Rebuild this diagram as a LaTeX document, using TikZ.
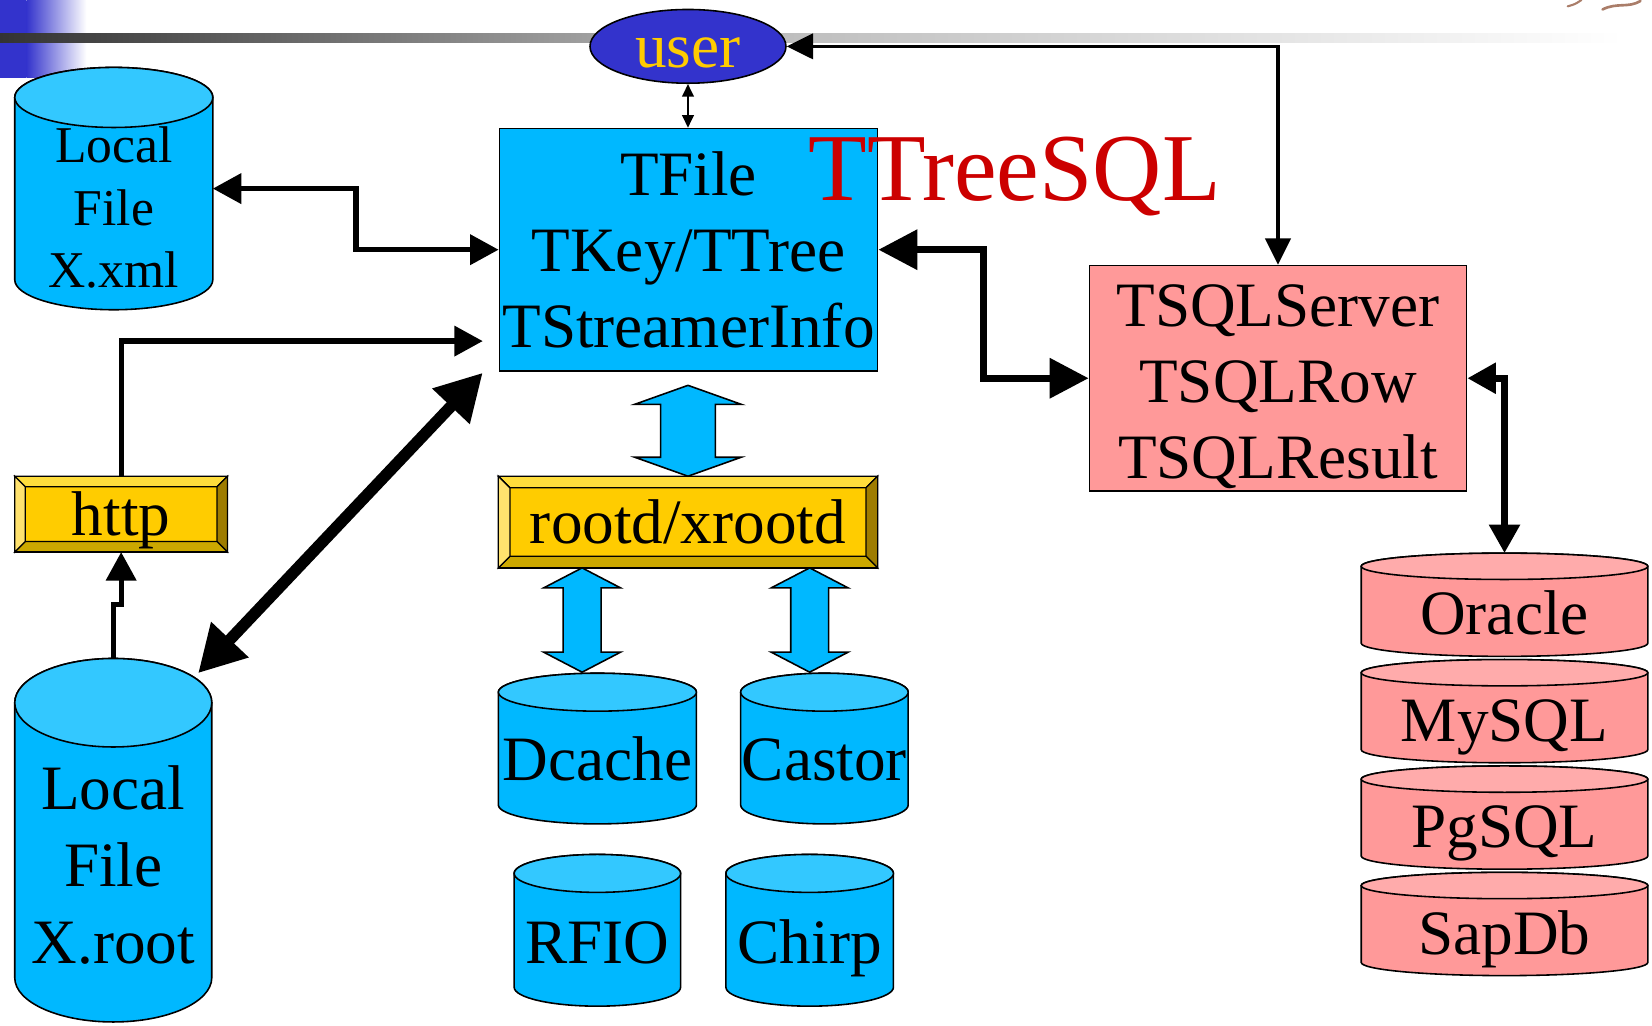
\documentclass[tikz,border=0pt]{standalone}
\usepackage{fontspec}
\setmainfont{Liberation Serif}
\usepackage{tikz}
\usetikzlibrary{positioning,shapes,arrows.meta,calc}
\pgfdeclarelayer{deco}
\pgfdeclarelayer{bg}
\pgfsetlayers{deco,bg,main}

\definecolor{boxblue}{RGB}{0,184,255}
\definecolor{cyltop}{RGB}{51,200,255}
\definecolor{sqlpink}{RGB}{255,153,153}
\definecolor{sqltop}{RGB}{255,171,171}
\definecolor{gold}{RGB}{255,204,0}
\definecolor{goldlight}{RGB}{255,221,60}
\definecolor{goldpale}{RGB}{255,226,110}
\definecolor{golddark}{RGB}{204,168,0}
\definecolor{goldshadow}{RGB}{158,124,0}
\definecolor{userblue}{RGB}{51,51,204}
\definecolor{useryellow}{RGB}{255,204,0}
\definecolor{sqlred}{RGB}{204,0,0}
\definecolor{smudge}{RGB}{170,125,105}

\tikzset{
headS/.tip={Triangle[length=12pt,width=11pt]},
headN/.tip={Triangle[length=25pt,width=24pt]},
headM/.tip={Triangle[length=27pt,width=28pt]},
headL/.tip={Triangle[length=37pt,width=37pt]},
headXL/.tip={Triangle[length=44pt,width=46pt]},
}

% disk: name, centre x, top, bottom, half width, end radius, body colour, lid colour
\newcommand{\dbase}[8]{%
  \begin{pgfonlayer}{bg}
    \filldraw[fill=#7, cylline] (#2-#5,#3+#6) -- (#2-#5,#4-#6)
      arc[start angle=180, end angle=360, x radius=#5pt, y radius=#6pt]
      -- (#2+#5,#3+#6)
      arc[start angle=0, end angle=180, x radius=#5pt, y radius=#6pt] -- cycle;
    \filldraw[fill=#8, cylline] (#2,#3+#6) ellipse[x radius=#5pt, y radius=#6pt];
  \end{pgfonlayer}
  \node[dbnode, minimum width=2*#5pt, minimum height={((#4)-(#3))*1pt}] (#1) at (#2,{((#3)+(#4))/2}) {};
}

% bevelled button behind node #1, bevel #2
\newcommand{\bevelbox}[2]{%
  \begin{pgfonlayer}{bg}
    \coordinate (bo1) at (#1.north west);
    \coordinate (bo2) at (#1.north east);
    \coordinate (bo3) at (#1.south east);
    \coordinate (bo4) at (#1.south west);
    \coordinate (bi1) at ([xshift=#2pt,yshift=-#2pt]#1.north west);
    \coordinate (bi2) at ([xshift=-#2pt,yshift=-#2pt]#1.north east);
    \coordinate (bi3) at ([xshift=-#2pt,yshift=#2pt]#1.south east);
    \coordinate (bi4) at ([xshift=#2pt,yshift=#2pt]#1.south west);
    \fill[gold] (bo1) rectangle (bo3);
    \filldraw[fill=goldlight, bevline] (bo1) -- (bo2) -- (bi2) -- (bi1) -- cycle;
    \filldraw[fill=goldshadow, bevline] (bo2) -- (bo3) -- (bi3) -- (bi2) -- cycle;
    \filldraw[fill=golddark, bevline] (bo3) -- (bo4) -- (bi4) -- (bi3) -- cycle;
    \filldraw[fill=goldpale, bevline] (bo4) -- (bo1) -- (bi1) -- (bi4) -- cycle;
    \draw[bevline] (bo1) rectangle (bo3);
  \end{pgfonlayer}
}

% fat two-way arrow from #1 down to #2: head half width, shaft half width, head length
\newcommand{\fatarrow}[5]{%
  \filldraw[blockarrow] let \p1=#1, \p2=#2 in
    (\x2,\y1) -- (\x2+#3pt,\y1-#5pt) -- (\x2+#4pt,\y1-#5pt) -- (\x2+#4pt,\y2+#5pt)
    -- (\x2+#3pt,\y2+#5pt) -- (\x2,\y2) -- (\x2-#3pt,\y2+#5pt) -- (\x2-#4pt,\y2+#5pt)
    -- (\x2-#4pt,\y1-#5pt) -- (\x2-#3pt,\y1-#5pt) -- cycle;
}

\begin{document}
\begin{tikzpicture}[x=1pt, y=-1pt,
classbox/.style={rectangle, draw=black, line width=1.5pt, inner sep=0pt, align=center,
  font={\fontsize{60}{72}\selectfont}},
lbl/.style={inner sep=0pt, text height=41pt, text depth=0pt, font={\fontsize{60}{72}\selectfont}},
stack/.style={inner sep=0pt, align=center, font={\fontsize{60}{73}\selectfont}},
dbnode/.style={rectangle, inner sep=0pt, outer sep=0pt},
cylline/.style={draw=black, line width=1.5pt},
bevline/.style={draw=black, line width=1.2pt},
blockarrow/.style={fill=boxblue, draw=black, line width=1.5pt, line join=miter},
conn/.style={line width=5pt},
thickconn/.style={line width=6.5pt},
thinconn/.style={line width=2pt},
midconn/.style={line width=3pt},
fatconn/.style={line width=11pt},
]
\useasboundingbox (0,0) rectangle (1568,973);

%Slide decoration
\begin{pgfonlayer}{deco}
\fill[userblue] (0,0) rectangle (25,74);
\shade[left color=userblue, right color=white] (25,0) rectangle (82,74);
\shade[left color=black!80, right color=black!27] (0,32) rectangle (700,40);
\shade[left color=black!27, right color=white] (700,32) rectangle (1540,40);
\draw[smudge, line width=2pt, line cap=round] (1488,6) .. controls (1495,4) .. (1501,0);
\draw[smudge, line width=2.5pt, line cap=round] (1521,9) .. controls (1535,2) and (1545,8) .. (1557,1);
\end{pgfonlayer}

%User
\node[ellipse, draw=black, line width=1.5pt, fill=userblue, text=useryellow,
  minimum width=186pt, minimum height=70pt, lbl] (user) at (653,44) {user};

%Classes
\node[classbox, fill=boxblue, minimum width=359pt, minimum height=230pt] (tfile) at (653.5,237) {TFile\\TKey/TTree\\TStreamerInfo};
\node[classbox, fill=sqlpink, minimum width=358pt, minimum height=214pt] (tsql) at (1213,359) {};
\node[stack, font={\fontsize{60}{72}\selectfont}] (tsqltxt) at (1213,367) {TSQLServer\\TSQLRow\\TSQLResult};
\node[text=sqlred, inner sep=0pt, anchor=base, font={\fontsize{91}{100}\selectfont}] (ttreesql) at (963,190) {TTreeSQL};

%Daemons
\node[lbl, dbnode, minimum width=202pt, minimum height=72pt] (http) at (115,488) {http};
\bevelbox{http}{10}
\node[lbl, dbnode, minimum width=360pt, minimum height=87pt] (rootd) at (653,495.5) {rootd/xrootd};
\bevelbox{rootd}{11}

%Local files
\dbase{xml}{108}{64}{294}{94}{28.5}{boxblue}{cyltop}
\node[stack, font={\fontsize{49}{59}\selectfont}] (xmltxt) at (108,197) {Local\\File\\X.xml};
\dbase{xroot}{107.5}{625}{970}{93.5}{42}{boxblue}{cyltop}
\node[stack] (xroottxt) at (107.5,821) {Local\\File\\X.root};

%Mass storage
\dbase{dcache}{567}{639}{782}{94}{18}{boxblue}{cyltop}
\node[lbl] (dcachetxt) at (567,720) {Dcache};
\dbase{castor}{782.5}{639}{782}{79.5}{18}{boxblue}{cyltop}
\node[lbl] (castortxt) at (782.5,720) {Castor};
\dbase{rfio}{567}{811}{955}{79}{18}{boxblue}{cyltop}
\node[lbl] (rfiotxt) at (567,894) {RFIO};
\dbase{chirp}{768.5}{811}{955}{79.5}{18}{boxblue}{cyltop}
\node[lbl] (chirptxt) at (768.5,894) {Chirp};

%SQL servers
\dbase{oracle}{1428}{525}{623}{136}{12.5}{sqlpink}{sqltop}
\node[lbl] (oracletxt) at (1428,582) {Oracle};
\dbase{mysql}{1428}{626}{724}{136}{12.5}{sqlpink}{sqltop}
\node[lbl] (mysqltxt) at (1428,683) {MySQL};
\dbase{pgsql}{1428}{727}{825}{136}{12.5}{sqlpink}{sqltop}
\node[lbl] (pgsqltxt) at (1428,784) {PgSQL};
\dbase{sapdb}{1428}{828}{926}{136}{12.5}{sqlpink}{sqltop}
\node[lbl] (sapdbtxt) at (1428,885) {SapDb};

%Block arrows
\fatarrow{([yshift=-13pt]tfile.south)}{(rootd.north)}{50.5}{26}{18}
\fatarrow{(rootd.south)}{([xshift=-14.5pt,yshift=1pt]dcache.north)}{36.5}{18}{19}
\fatarrow{(rootd.south)}{([xshift=-14pt,yshift=1pt]castor.north)}{36.5}{18}{19}

%Connections
\draw[thinconn, headS-headS] (user.south) -- (user.south |- tfile.north);
\draw[midconn, headN-headN] (user.east) -| (tsql.north);
\draw[conn, headM-headM] (xml.east) -- ++(136,0) |- (tfile.west);
\draw[conn, -headM] (http.north) |- ([xshift=-15pt,yshift=29pt]tfile.south west);
\draw[conn, -headM] (xroot.north) -- ++(0,-51) -| (http.south);
\draw[fatconn, headXL-headXL] ([xshift=80.5pt,yshift=-14pt]xroot.north) -- ([xshift=-15pt,yshift=-1pt]tfile.south west);
\draw[thickconn, headL-headL] (tfile.east) -- ++(100,0) |- (tsql.west);
\draw[thickconn, headM-headM] (tsql.east) -| (oracle.north);
\end{tikzpicture}
\end{document}
